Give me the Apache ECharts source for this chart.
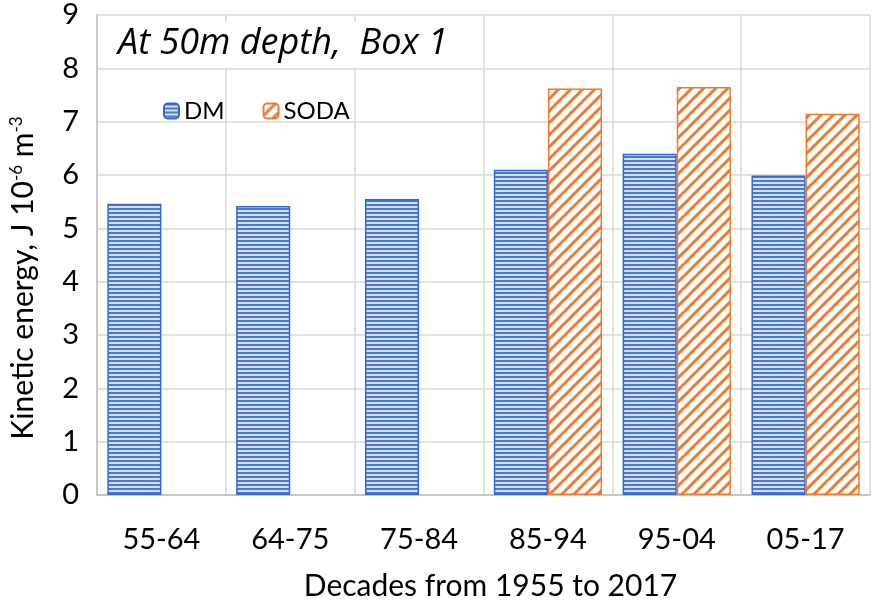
<!DOCTYPE html>
<html>
<head>
<meta charset="utf-8">
<script src="https://cdn.jsdelivr.net/npm/echarts@6/dist/echarts.min.js"></script>
<style>
  html, body { margin: 0; padding: 0; background: #fff; }
  #chart { width: 886px; height: 606px; }
</style>
</head>
<body>
<div id="chart"></div>
<script>
// data
var decades = ['55-64', '64-75', '75-84', '85-94', '95-04', '05-17'];
var dmValues = [5.46, 5.42, 5.55, 6.10, 6.40, 5.99];
var sodaValues = [null, null, null, 7.62, 7.65, 7.15];
var yTicks = [0, 1, 2, 3, 4, 5, 6, 7, 8, 9];

var FONT = 'Lato';
var BLUE = '#3566d4';
var ORANGE = '#f07a2e';

// horizontal stripes for DM
function stripePattern() {
    var c = document.createElement('canvas');
    c.width = 4; c.height = 4;
    var ctx = c.getContext('2d');
    ctx.fillStyle = '#d6e1f6';
    ctx.fillRect(0, 0, 4, 4);
    ctx.fillStyle = '#4a78d8';
    ctx.fillRect(0, 0, 4, 2);
    return c;
}

// diagonal hatch for SODA
function hatchPattern() {
    var s = 12;
    var c = document.createElement('canvas');
    c.width = s; c.height = s;
    var ctx = c.getContext('2d');
    ctx.fillStyle = '#ffffff';
    ctx.fillRect(0, 0, s, s);
    ctx.strokeStyle = ORANGE;
    ctx.lineWidth = 3;
    ctx.beginPath();
    ctx.moveTo(-2, s + 2); ctx.lineTo(s + 2, -2);
    ctx.moveTo(-2, 2); ctx.lineTo(2, -2);
    ctx.moveTo(s - 2, s + 2); ctx.lineTo(s + 2, s - 2);
    ctx.stroke();
    return c;
}

var myChart = echarts.init(document.getElementById('chart'));

var option = {
    backgroundColor: '#fff',
    animation: false,
    title: {
        text: 'At 50m depth,  Box 1',
        left: 110,
        top: 22,
        padding: [4, 12, 6, 8],
        backgroundColor: '#fff',
        textStyle: {
            fontFamily: 'Open Sans',
            fontStyle: 'italic',
            fontWeight: 'normal',
            fontSize: 36,
            color: '#000'
        }
    },
    legend: {
        left: 158,
        top: 94,
        itemWidth: 15,
        itemHeight: 15,
        itemGap: 38,
        textStyle: {
            fontFamily: FONT,
            fontSize: 24,
            color: '#000'
        },
        data: ['DM', 'SODA']
    },
    grid: {
        left: 95,
        right: 16,
        top: 15,
        bottom: 108
    },
    xAxis: {
        type: 'category',
        data: decades,
        name: 'Decades from 1955 to 2017',
        nameLocation: 'middle',
        nameGap: 76,
        nameTextStyle: {
            fontFamily: FONT,
            fontSize: 30,
            color: '#000',
            padding: [0, 0, 0, 14]
        },
        axisLine: { lineStyle: { color: '#bfbfbf', width: 1.5 } },
        axisTick: { show: false },
        axisLabel: {
            margin: 30,
            fontFamily: FONT,
            fontSize: 29,
            color: '#000'
        },
        splitLine: {
            show: true,
            interval: 0,
            lineStyle: { color: '#d9d9d9', width: 1.5 }
        }
    },
    yAxis: {
        type: 'value',
        min: yTicks[0],
        max: yTicks[yTicks.length - 1],
        interval: 1,
        name: 'Kinetic energy, J 10{sup|-6} m{sup|-3}',
        nameLocation: 'middle',
        nameGap: 58,
        nameTextStyle: {
            fontFamily: FONT,
            fontSize: 30,
            color: '#000',
            padding: [0, 46, 0, 0],
            rich: {
                sup: {
                    fontFamily: FONT,
                    fontSize: 17,
                    color: '#000',
                    verticalAlign: 'top',
                    padding: [0, 0, 14, 0]
                }
            }
        },
        axisLine: { show: true, lineStyle: { color: '#bfbfbf', width: 1.5 } },
        axisTick: { show: false },
        axisLabel: {
            margin: 18,
            fontFamily: FONT,
            fontSize: 29,
            color: '#000'
        },
        splitLine: {
            lineStyle: { color: '#d9d9d9', width: 1.5 }
        }
    },
    series: [
        {
            name: 'DM',
            type: 'bar',
            barGap: 0,
            barCategoryGap: '16%',
            itemStyle: {
                color: { image: stripePattern(), repeat: 'repeat' },
                borderColor: BLUE,
                borderWidth: 1.5
            },
            data: dmValues
        },
        {
            name: 'SODA',
            type: 'bar',
            barGap: 0,
            barCategoryGap: '16%',
            itemStyle: {
                color: { image: hatchPattern(), repeat: 'repeat' },
                borderColor: ORANGE,
                borderWidth: 1.5
            },
            data: sodaValues
        }
    ]
};

myChart.setOption(option);
</script>
</body>
</html>
